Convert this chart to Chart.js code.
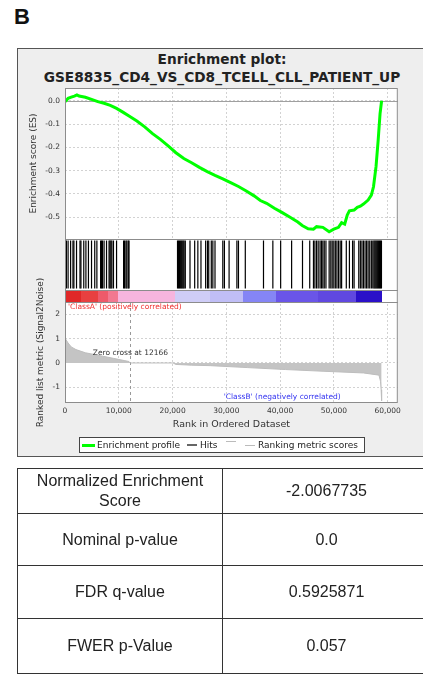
<!DOCTYPE html>
<html>
<head>
<meta charset="utf-8">
<script src="https://cdn.jsdelivr.net/npm/chart.js@4.4.0/dist/chart.umd.min.js"></script>
<style>
  body { margin: 0; width: 423px; height: 674px; overflow: hidden; background: #fff; position: relative; font-family: 'DejaVu Sans', sans-serif; }
  #letter { position: absolute; left: 14px; top: 6px; font: bold 22px 'Liberation Sans', Arial, sans-serif; line-height: 22px; color: #111; }
  #panel { position: absolute; left: 17px; top: 48px; width: 420px; height: 407px; background: #eeeeee; border: 1px solid #555; }
  #title { position: absolute; left: 17px; top: 50px; width: 410px; text-align: center; font: bold 13.7px 'DejaVu Sans', sans-serif; line-height: 18px; color: #222; }
  #chart { position: absolute; left: 17px; top: 48px; }
  #legend { position: absolute; left: 79px; top: 437px; width: 284px; height: 14px; background: #fff; border: 1px solid #444; }
  #legend span { position: absolute; }
  #legend .txt { top: 1px; font-size: 9px; line-height: 12px; color: #222; white-space: nowrap; }
  #stats { position: absolute; left: 17px; top: 468px; width: 414px; border-collapse: collapse; font: 16px 'Liberation Sans', Arial, sans-serif; color: #222; }
  #stats td { border: 1px solid #333; text-align: center; padding: 0; line-height: 20px; }
</style>
</head>
<body>
<div id="letter">B</div>
<div id="panel"></div>
<div id="title">Enrichment plot:<br>GSE8835_CD4_VS_CD8_TCELL_CLL_PATIENT_UP</div>
<canvas id="chart" width="406" height="408"></canvas>
<div id="legend">
  <span style="left:2px; top:6px; width:13px; height:3px; background:#00ff00;"></span>
  <span class="txt" style="left:17px;">Enrichment profile</span>
  <span style="left:107px; top:6px; width:10px; height:2px; background:#666;"></span>
  <span class="txt" style="left:120px;">Hits</span>
  <span style="left:146px; top:3px; width:10px; height:1px; background:#bbb;"></span>
  <span style="left:165px; top:7px; width:10px; height:1px; background:#bbb;"></span>
  <span class="txt" style="left:178px;">Ranking metric scores</span>
</div>
<table id="stats"></table>
<script>
// running enrichment score
const esRanks  = [0, 575, 1160, 1745, 2215, 2615, 3785, 4935, 6100, 7270,
                  8420, 9590, 10760, 11910, 13370, 14825, 16280, 17735, 19185, 20630,
                  22100, 23545, 25000, 26455, 27900, 29355, 30810, 32265, 33715, 35175,
                  36330, 37500, 38950, 40410, 41860, 43300, 44120, 45230, 46215, 46790,
                  47960, 49130, 50000, 50870, 51450, 52020, 52500, 52900, 53770, 54360,
                  54940, 55510, 56380, 56980, 57380, 57850, 58250, 58600, 58890];
const esScores = [-0.004, 0.010, 0.015, 0.020, 0.025, 0.020, 0.015, 0.006, -0.004, -0.011,
                  -0.020, -0.033, -0.049, -0.066, -0.087, -0.112, -0.141, -0.166, -0.194, -0.223,
                  -0.248, -0.266, -0.286, -0.304, -0.320, -0.335, -0.351, -0.368, -0.387, -0.408,
                  -0.428, -0.440, -0.461, -0.480, -0.500, -0.520, -0.535, -0.549, -0.551, -0.540,
                  -0.543, -0.562, -0.551, -0.543, -0.523, -0.529, -0.490, -0.472, -0.469, -0.457,
                  -0.452, -0.443, -0.426, -0.405, -0.369, -0.283, -0.169, -0.055, 0.0];

// positions of gene set members in the ranked list
const hitRanks = [90, 260, 575, 1045, 1480, 1655, 2145, 2790, 2965, 3490,
                  3890, 4360, 4935, 5530, 5930, 6625, 6800, 6975, 7270, 7725,
                  8195, 8370, 8545, 8720, 9015, 9590, 10900, 11075, 11335, 11510,
                  11770, 11910,
                  20930, 21100, 21280, 21450, 21630, 21800, 21980, 22150, 22375,
                  23250, 24120, 24710, 25290, 26160, 26510, 26735, 27210, 27500, 27900,
                  29350, 29650, 30520, 31970, 32265, 33535, 36920, 38660, 40110, 42150,
                  44175, 45520, 46215, 46480, 46790, 47090, 47435, 47700, 47960, 48220,
                  48535, 49130, 49440, 49700, 50000, 50280, 50575, 50870, 51180, 51450,
                  52320, 52900, 53490, 53770, 54640, 54935, 55230, 55510, 55810, 56100,
                  56380, 56680, 56980, 57255, 57465, 57640, 57815, 57990, 58160, 58335,
                  58510, 58685, 58860];

// ranked list metric (signal2noise)
const metricRanks  = [0, 200, 575, 1160, 2040, 3785, 6100, 9015, 11000, 11900, 12166,
                      20100, 20600, 23500, 27000, 34000, 41000, 48000, 55500, 58400, 58680, 58800, 58890];
const metricValues = [1.08, 0.95, 0.82, 0.66, 0.55, 0.42, 0.32, 0.19, 0.10, 0.06, 0,
                      0, -0.06, -0.09, -0.11, -0.19, -0.27, -0.34, -0.41, -0.50, -0.75, -1.10, -1.55];

// heat bar under the hits
const barStops  = [0, 3000, 6100, 8000, 9940, 20400, 27000, 33140, 39240, 47000, 54060, 58890];
const barColors = ['#e02828', '#e84040', '#ee5a6a', '#f27890', '#f7b5de', '#cfcdf7',
                   '#c0bef6', '#8585f5', '#6a55e8', '#6048e0', '#2a10c8'];

const rankTicks   = [0, 10000, 20000, 30000, 40000, 50000, 60000];
const esTicks     = [0, -0.1, -0.2, -0.3, -0.4, -0.5];
const metricTicks = [2, 1, 0, -1];
const zeroCross   = 12166;

const statNames  = ['Normalized Enrichment<br>Score', 'Nominal p-value', 'FDR q-value', 'FWER p-Value'];
const statValues = ['-2.0067735', '0.0', '0.5925871', '0.057'];
const rowHeights = [45, 52, 53, 55];

document.getElementById('stats').innerHTML = statNames.map((n, i) => `
  <tr style="height:${rowHeights[i]}px"><td style="width:204px">${n}</td><td>${statValues[i]}</td></tr>
`).join('');

const tickFont = { family: 'DejaVu Sans', size: 7.5 };
const labelFont = '9px "DejaVu Sans"';
const fixWidth = ax => { ax.width = 48; };
// left axes share one stack; higher weight sits higher up
const hiddenAxis = (share, order) => ({
  type: 'linear', position: 'left', stack: 'gsea', stackWeight: share, weight: order, min: 0, max: 1,
  afterFit: fixWidth,
  ticks: { display: false },
  grid: { display: false },
  border: { display: false }
});

// background, heat bar, frame and panel texts
const gseaPanels = {
  id: 'gseaPanels',
  beforeDraw(chart) {
    const { ctx, chartArea: a } = chart;
    ctx.save();
    ctx.fillStyle = '#fff';
    ctx.fillRect(a.left, a.top, a.width, a.height);
    ctx.restore();
  },
  beforeDatasetsDraw(chart) {
    const { ctx, chartArea: a, scales } = chart;
    const { x, yES, yHits, yBar, yMetric } = scales;
    ctx.save();
    // no grid behind the hits and the heat bar
    ctx.fillStyle = '#fff';
    ctx.fillRect(a.left, yHits.top, a.width, yBar.bottom - yHits.top);
    for (let i = 0; i < barColors.length; i++) {
      const x0 = Math.round(x.getPixelForValue(barStops[i]));
      const x1 = Math.round(x.getPixelForValue(barStops[i + 1]));
      ctx.fillStyle = barColors[i];
      ctx.fillRect(x0, yBar.top, x1 - x0, yBar.bottom - yBar.top);
    }
    const y0 = Math.round(yES.getPixelForValue(0)) + 0.5;
    ctx.strokeStyle = '#a0a0a0';
    ctx.lineWidth = 1;
    ctx.beginPath(); ctx.moveTo(a.left, y0); ctx.lineTo(a.right, y0); ctx.stroke();
    const zx = Math.round(x.getPixelForValue(zeroCross)) + 0.5;
    ctx.setLineDash([3, 3]);
    ctx.strokeStyle = '#999';
    ctx.beginPath(); ctx.moveTo(zx, yMetric.top); ctx.lineTo(zx, yMetric.bottom); ctx.stroke();
    ctx.restore();
  },
  afterDatasetsDraw(chart) {
    const { ctx, chartArea: a, scales } = chart;
    const { x, yES, yHits, yBar, yMetric } = scales;
    ctx.save();
    ctx.strokeStyle = '#8c8c8c';
    ctx.lineWidth = 1;
    [yES.bottom, yHits.bottom, yBar.bottom].forEach(y => {
      const yy = Math.round(y) + 0.5;
      ctx.beginPath(); ctx.moveTo(a.left, yy); ctx.lineTo(a.right, yy); ctx.stroke();
    });
    ctx.strokeRect(a.left + 0.5, a.top + 0.5, a.width - 1, a.height - 1);

    ctx.font = '7.5px "DejaVu Sans"';
    ctx.textBaseline = 'middle';
    ctx.fillStyle = '#f03030';
    ctx.textAlign = 'left';
    ctx.fillText("'ClassA' (positively correlated)", a.left + 3, yMetric.top + 5);
    ctx.fillStyle = '#3535f0';
    ctx.textAlign = 'right';
    ctx.fillText("'ClassB' (negatively correlated)", a.right - 57, yMetric.bottom - 6);
    ctx.fillStyle = '#333';
    ctx.textAlign = 'center';
    ctx.fillText('Zero cross at ' + zeroCross, x.getPixelForValue(zeroCross), yMetric.getPixelForValue(0) - 10);

    ctx.font = '9.5px "DejaVu Sans"';
    ctx.fillText('Rank in Ordered Dataset', (a.left + a.right) / 2, a.bottom + 22);

    ctx.font = labelFont;
    ctx.translate(17, (yES.top + yES.bottom) / 2);
    ctx.rotate(-Math.PI / 2);
    ctx.fillText('Enrichment score (ES)', 0, 0);
    ctx.setTransform(1, 0, 0, 1, 0, 0);
    ctx.translate(24, (yMetric.top + yMetric.bottom) / 2);
    ctx.rotate(-Math.PI / 2);
    ctx.fillText('Ranked list metric (Signal2Noise)', 0, 0);
    ctx.restore();
  }
};

new Chart(document.getElementById('chart'), {
  type: 'line',
  data: {
    datasets: [
      {
        label: 'Enrichment profile',
        data: esRanks.map((r, i) => ({ x: r, y: esScores[i] })),
        yAxisID: 'yES',
        borderColor: '#00ff00',
        borderWidth: 3,
        pointRadius: 0,
        tension: 0,
        fill: false
      },
      {
        label: 'Hits',
        type: 'scatter',
        data: hitRanks.map(r => ({ x: r, y: 0.5 })),
        yAxisID: 'yHits',
        pointStyle: 'line',
        rotation: 90,
        pointRadius: 24,
        borderColor: '#000',
        borderWidth: 1.2
      },
      {
        label: 'Ranking metric scores',
        data: metricRanks.map((r, i) => ({ x: r, y: metricValues[i] })),
        yAxisID: 'yMetric',
        borderColor: '#bdbdbd',
        backgroundColor: '#c4c4c4',
        borderWidth: 1,
        pointRadius: 0,
        tension: 0,
        fill: 'origin'
      }
    ]
  },
  options: {
    responsive: false,
    animation: false,
    events: [],
    layout: { padding: { top: 40, right: 3, bottom: 33, left: 0 } },
    plugins: { legend: { display: false }, tooltip: { enabled: false } },
    scales: {
      x: {
        type: 'linear', min: 0, max: 61900,
        afterBuildTicks: ax => { ax.ticks = rankTicks.map(v => ({ value: v })); },
        afterFit: ax => { ax.height = 20; },
        ticks: { font: tickFont, color: '#333', padding: 4, maxRotation: 0, autoSkip: false },
        grid: { color: '#d2d2d2', drawTicks: false },
        border: { display: false, dash: [2, 2] }
      },
      yES: {
        type: 'linear', position: 'left', stack: 'gsea', stackWeight: 151, weight: 4,
        min: -0.593, max: 0.0545,
        afterBuildTicks: ax => { ax.ticks = esTicks.map(v => ({ value: v })); },
        afterFit: fixWidth,
        ticks: { font: tickFont, color: '#333', padding: 5, autoSkip: false, callback: v => v.toFixed(1) },
        grid: { color: '#d2d2d2', drawTicks: false },
        border: { display: false, dash: [2, 2] }
      },
      yHits: hiddenAxis(51, 3),
      yBar: hiddenAxis(12, 2),
      yMetric: {
        type: 'linear', position: 'left', stack: 'gsea', stackWeight: 101, weight: 1,
        min: -1.645, max: 2.506,
        afterBuildTicks: ax => { ax.ticks = metricTicks.map(v => ({ value: v })); },
        afterFit: fixWidth,
        ticks: { font: tickFont, color: '#333', padding: 5, autoSkip: false, callback: v => String(v) },
        grid: { color: '#d2d2d2', drawTicks: false },
        border: { display: false, dash: [2, 2] }
      }
    }
  },
  plugins: [gseaPanels]
});
</script>
</body>
</html>
